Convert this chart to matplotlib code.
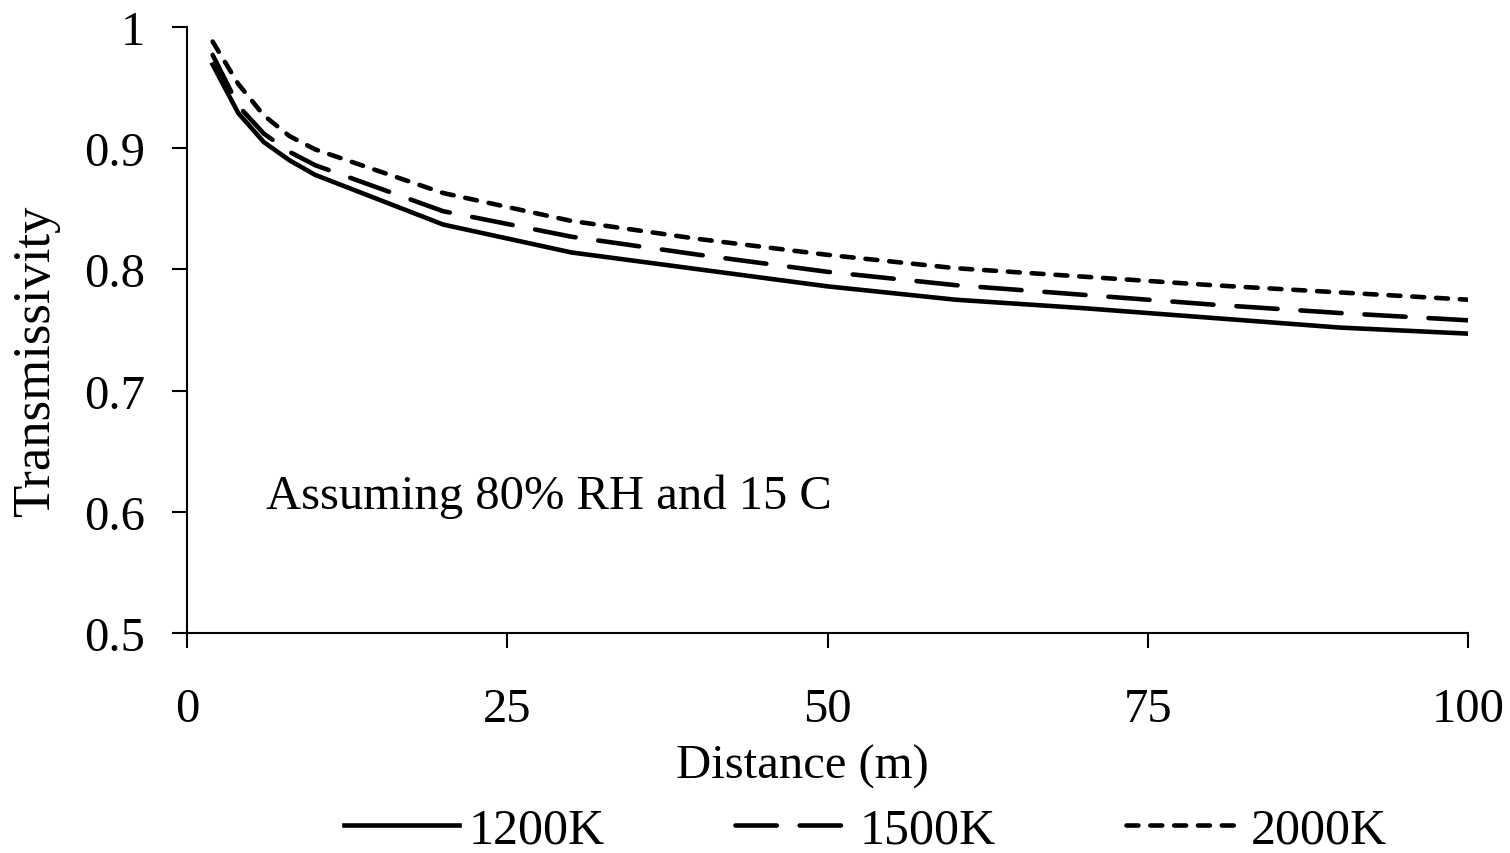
import numpy as np
import matplotlib.pyplot as plt

plt.rcParams.update({
    'font.family': 'Liberation Serif',
    'font.size': 35,
})

distance = [2, 4, 6, 8, 10, 20, 30, 40, 50, 60, 70, 80, 90, 100]
t_1200 = [0.969, 0.929, 0.905, 0.890, 0.878, 0.837, 0.814, 0.800, 0.786, 0.775, 0.768, 0.760, 0.752, 0.747]
t_1500 = [0.977, 0.935, 0.912, 0.897, 0.886, 0.848, 0.827, 0.812, 0.798, 0.787, 0.779, 0.771, 0.764, 0.758]
t_2000 = [0.988, 0.953, 0.927, 0.910, 0.899, 0.863, 0.840, 0.825, 0.812, 0.801, 0.794, 0.787, 0.781, 0.775]
labels = ['1200K', '1500K', '2000K']

fig = plt.figure(figsize=(15.1, 8.54), dpi=100)
ax = fig.add_axes([187/1510, 1 - 634/854, 1281/1510, 606/854])

lw = 3.3
ax.plot(distance, t_1200, color='black', lw=lw, label=labels[0])
ax.plot(distance, t_1500, color='black', lw=lw, dashes=(9, 5),
        dash_capstyle='round', label=labels[1])
ax.plot(distance, t_2000, color='black', lw=lw, dashes=(2.6, 2.6),
        dash_capstyle='round', label=labels[2])

ax.set_xlim(0, 100)
ax.set_ylim(0.5, 1.0)
ax.set_xticks([0, 25, 50, 75, 100])
ax.set_yticks([0.5, 0.6, 0.7, 0.8, 0.9, 1.0])
ax.set_yticklabels(['0.5', '0.6', '0.7', '0.8', '0.9', '1'])
ax.tick_params(axis='both', direction='out', length=11, width=1.5, color='black')
ax.tick_params(axis='y', pad=19)
ax.tick_params(axis='x', pad=28)
ax.spines[['top', 'right']].set_visible(False)
ax.spines[['left', 'bottom']].set_linewidth(1.5)

ax.set_xlabel('Distance (m)')
ax.set_ylabel('Transmissivity', fontsize=38)
ax.xaxis.set_label_coords(0.48, -0.183)
ax.yaxis.set_label_coords(-0.099, 0.45)

ax.text(6.2, 0.613, 'Assuming 80% RH and 15 C', ha='left', va='center')

fig.legend(loc='center', bbox_to_anchor=(0.573, 0.027), ncols=3, frameon=False,
           fontsize=36, handlelength=2.3, handletextpad=0.2, columnspacing=2.6)

fig.savefig('out.png', dpi=100)
